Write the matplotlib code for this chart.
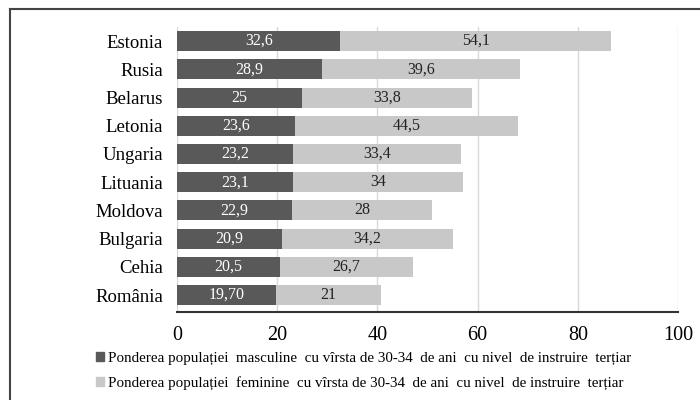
import matplotlib.pyplot as plt
from matplotlib.lines import Line2D

countries = ['Estonia', 'Rusia', 'Belarus', 'Letonia', 'Ungaria', 'Lituania',
             'Moldova', 'Bulgaria', 'Cehia', 'România']
male = [32.6, 28.9, 25, 23.6, 23.2, 23.1, 22.9, 20.9, 20.5, 19.7]
female = [54.1, 39.6, 33.8, 44.5, 33.4, 34, 28, 34.2, 26.7, 21]
male_labels = ['32,6', '28,9', '25', '23,6', '23,2', '23,1', '22,9', '20,9', '20,5', '19,70']
female_labels = ['54,1', '39,6', '33,8', '44,5', '33,4', '34', '28', '34,2', '26,7', '21']
legend_names = [
    'Ponderea populației  masculine  cu vîrsta de 30-34  de ani  cu nivel  de instruire  terțiar',
    'Ponderea populației  feminine  cu vîrsta de 30-34  de ani  cu nivel  de instruire  terțiar',
]

plt.rcParams['font.family'] = ['Liberation Serif', 'DejaVu Serif']

fig = plt.figure(figsize=(7, 4), dpi=100)
ax = fig.add_axes([177 / 700, 1 - 312 / 400, 501 / 700, 285 / 400])

dark = '#595959'
light = '#c8c8c8'
y = list(range(len(countries)))
ax.barh(y, male, height=0.71, color=dark, zorder=2)
ax.barh(y, female, left=male, height=0.71, color=light, zorder=2)

for i in y:
    ax.text(male[i] / 2, i, male_labels[i], ha='center', va='center',
            color='white', fontsize=11.5, zorder=3)
    ax.text(male[i] + female[i] / 2, i, female_labels[i], ha='center', va='center',
            color='#222222', fontsize=11.5, zorder=3)

ax.set_xlim(0, 100)
ax.set_ylim(9.6, -0.5)
ax.set_xticks([0, 20, 40, 60, 80, 100])
ax.set_yticks(y)
ax.set_yticklabels(countries, fontsize=13.5)
ax.tick_params(axis='x', labelsize=14.5, length=0, pad=10)
ax.tick_params(axis='y', length=0, pad=10)
ax.grid(axis='x', color='#d9d9d9', linewidth=1, zorder=0)
for s in ['top', 'right', 'left']:
    ax.spines[s].set_visible(False)
ax.spines['bottom'].set_color('#333333')
ax.spines['bottom'].set_linewidth(1.5)

handles = [plt.Rectangle((0, 0), 1, 1, color=dark), plt.Rectangle((0, 0), 1, 1, color=light)]
fig.legend(handles, legend_names, loc='upper left', bbox_to_anchor=(90 / 700, 1 - 346 / 400),
           frameon=False, fontsize=10.8, handlelength=0.55, handleheight=0.55,
           handletextpad=0.25, labelspacing=0.75, borderaxespad=0)

# outer frame
fig.add_artist(Line2D([10 / 700, 1.0], [1 - 9 / 400, 1 - 9 / 400], color='#444444', linewidth=1.5))
fig.add_artist(Line2D([10 / 700, 10 / 700], [0, 1 - 9 / 400], color='#444444', linewidth=1.5))

fig.savefig('out.png', dpi=100)
